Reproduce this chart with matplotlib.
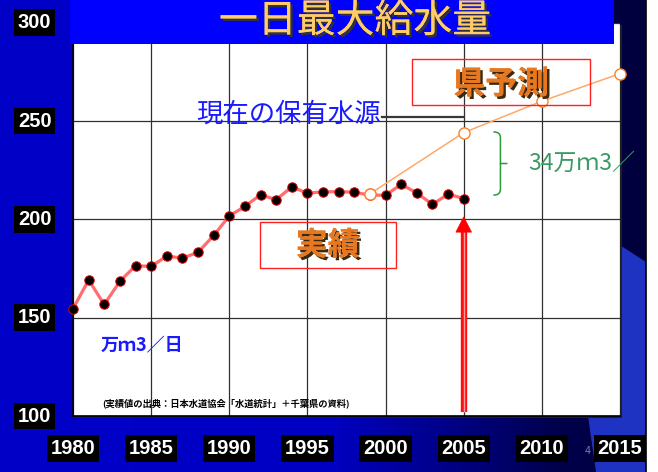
import numpy as np
import matplotlib
matplotlib.use("Agg")
import matplotlib.pyplot as plt
import matplotlib.patheffects as pe
from matplotlib.patches import Rectangle, Polygon
from matplotlib.path import Path
from matplotlib.patches import PathPatch
from matplotlib.colors import LinearSegmentedColormap

# ---- data -------------------------------------------------------------
years_actual = [1980, 1981, 1982, 1983, 1984, 1985, 1986, 1987, 1988, 1989,
                1990, 1991, 1992, 1993, 1994, 1995, 1996, 1997, 1998, 1999,
                2000, 2001, 2002, 2003, 2004, 2005]
supply_actual = [154.5, 169.2, 156.7, 168.5, 176.4, 176.1, 181.3, 180.3, 183.2, 191.8,
                 201.7, 206.6, 212.5, 210.0, 216.5, 213.3, 214.0, 214.1, 213.8, 212.3,
                 212.3, 217.8, 213.4, 207.6, 212.8, 210.6]
years_forecast = [1999, 2005, 2010, 2015]
supply_forecast = [213.0, 244.1, 260.1, 274.1]

x_ticks = [1980, 1985, 1990, 1995, 2000, 2005, 2010, 2015]
y_ticks = [100, 150, 200, 250, 300]
x_tick_labels = ["1980", "1985", "1990", "1995", "2000", "2005", "2010", "2015"]
y_tick_labels = ["100", "150", "200", "250", "300"]

title = "一日最大給水量"
label_capacity = "現在の保有水源"
capacity_level = 252.0
label_forecast = "県予測"
label_actual = "実績"
label_gap = "34万ｍ3／"
label_unit = "万ｍ3／日"
label_source = "(実績値の出典：日本水道協会「水道統計」＋千葉県の資料)"

CJK = ["Noto Sans CJK JP", "DejaVu Sans"]
W, H = 658, 472

fig = plt.figure(figsize=(W / 100, H / 100), dpi=100, facecolor="white")

# ---- slide background (pixel coordinates) -----------------------------
bg = fig.add_axes([0, 0, 1, 1], zorder=-5)
bg.set_xlim(0, W)
bg.set_ylim(H, 0)
bg.axis("off")
cmap = LinearSegmentedColormap.from_list(
    "slide",
    [(0.0, (0, 0, 200 / 255)), (0.51, (0, 0, 195 / 255)), (0.71, (0, 0, 130 / 255)),
     (0.87, (0, 0, 75 / 255)), (1.0, (0, 0, 60 / 255))])
grad = np.linspace(0, 1, 400)[None, :]
bg.imshow(grad, cmap=cmap, extent=(0, 646, H, 0), aspect="auto", zorder=0)
bg.add_patch(Polygon([(588, 416), (596, H), (646, H), (646, 262), (612, 240)],
                     closed=True, facecolor=(0.12, 0.2, 0.76), edgecolor="none", zorder=1))
bg.add_patch(Rectangle((646, 0), W - 646, H, facecolor="white", edgecolor="none", zorder=2))
bg.plot([645.5, 645.5], [0, H], color="black", lw=1.2, zorder=3)
# plot-area drop shadow
bg.add_patch(Rectangle((75, 24.5), 547, 393.5, facecolor="#202020", edgecolor="none", zorder=2))
bg.text(588, 451, "4", color="#7a7ab8", fontsize=7, ha="center", va="center",
        family="DejaVu Sans", zorder=3)

# ---- chart axes --------------------------------------------------------
ax = fig.add_axes([73 / W, 1 - 416 / H, (620 - 73) / W, (416 - 22.7) / H], zorder=1)
ax.set_facecolor("white")
ax.set_xlim(1980, 2015)
ax.set_ylim(100, 300)
ax.set_xticks(x_ticks)
ax.set_yticks(y_ticks)
ax.set_xticklabels([])
ax.set_yticklabels([])
ax.tick_params(length=0)
ax.grid(True, color="#303030", lw=0.9)
ax.set_axisbelow(True)
for side in ("top", "right"):
    ax.spines[side].set_visible(False)
ax.spines["left"].set_color("black")
ax.spines["left"].set_linewidth(1.2)
ax.spines["bottom"].set_color("black")
ax.spines["bottom"].set_linewidth(1.2)

# forecast
ax.plot(years_forecast, supply_forecast, color="#ffa868", lw=1.1, zorder=3,
        marker="o", ms=8, mfc="white", mec="#ff7f27", mew=1.0, clip_on=False)
# actual
ax.plot(years_actual, supply_actual, color="#ff6e6e", lw=2.3, zorder=4,
        marker="o", ms=6.8, mfc="black", mec="#e00000", mew=0.7, clip_on=False)
# forecast start marker drawn above the actual series
ax.plot(years_forecast[:1], supply_forecast[:1], ls="none", zorder=5,
        marker="o", ms=8, mfc="white", mec="#ff7f27", mew=1.0)

# current capacity marker line
ax.plot([1999.8, 2005], [capacity_level, capacity_level], color="#383838", lw=1.6, zorder=3)
ax.text(1999.7, capacity_level + 1.5, label_capacity, color="#1a1aff", fontsize=19,
        family=CJK, ha="right", va="center", zorder=6)

# red arrow at 2005
arrow_x = 2005
arrow_base, head_base, head_tip = 102.0, 193.5, 201.2
ax.plot([arrow_x, arrow_x], [arrow_base, head_base + 0.5], color="#ff1010", lw=4.6,
        solid_capstyle="butt", zorder=6)
ax.plot([arrow_x, arrow_x], [arrow_base, head_base + 0.5], color="#ff9a9a", lw=1.0,
        solid_capstyle="butt", zorder=7)
ax.add_patch(Polygon([(arrow_x - 0.5, head_base), (arrow_x + 0.5, head_base),
                      (arrow_x, head_tip)], closed=True, facecolor="#ff0000",
                     edgecolor="#ff0000", lw=0.5, zorder=7))

# gap brace between forecast and actual in 2005
b_top, b_bot = 244.5, 212.3
bx0, bx1 = 2006.9, 2007.8
b_mid = (b_top + b_bot) / 2
bxm = (bx0 + bx1) / 2
verts = [(bx0, b_top), (bxm, b_top), (bxm, b_top - 3), (bxm, b_mid + 4),
         (bxm, b_mid), (bxm, b_mid), (bx1, b_mid),
         (bxm, b_mid), (bxm, b_mid), (bxm, b_mid - 4),
         (bxm, b_bot + 3), (bxm, b_bot), (bx0, b_bot)]
codes = [Path.MOVETO, Path.CURVE3, Path.CURVE3, Path.LINETO, Path.CURVE3, Path.CURVE3,
         Path.LINETO, Path.MOVETO, Path.CURVE3, Path.CURVE3, Path.LINETO, Path.CURVE3,
         Path.CURVE3]
ax.add_patch(PathPatch(Path(verts, codes), facecolor="none", edgecolor="#2a9a3c",
                       lw=1.1, zorder=5))
ax.text(2009.15, 228.6, label_gap, color="#3a9a64", fontsize=16.5, family=CJK,
        ha="left", va="center", zorder=8, clip_on=False)

# labelled boxes
shadow = [pe.withSimplePatchShadow(offset=(1.8, -1.8), shadow_rgbFace="#3a2a10", alpha=1.0),
          pe.Normal()]
ax.add_patch(Rectangle((2001.7, 258.1), 11.4, 23.3, facecolor="none", edgecolor="#ff2020",
                       lw=1.0, zorder=4))
ax.text(2007.4, 268.5, label_forecast, color="#e87820", fontsize=23, weight="bold",
        family=CJK, ha="center", va="center", zorder=6, path_effects=shadow)
ax.add_patch(Rectangle((1991.96, 175.2), 8.69, 23.4, facecolor="none", edgecolor="#ff2020",
                       lw=1.0, zorder=4))
ax.text(1996.3, 186.5, label_actual, color="#e87820", fontsize=23, weight="bold",
        family=CJK, ha="center", va="center", zorder=6, path_effects=shadow)

ax.text(1981.8, 135.5, label_unit, color="#1a1aff", fontsize=13, weight="bold",
        family=CJK, ha="left", va="center", zorder=6)
ax.text(1989.8, 106.6, label_source, color="black", fontsize=6.7, weight="bold",
        family=CJK, ha="center", va="center", zorder=6)

# ---- tick labels: white bold on black ---------------------------------
box = dict(facecolor="black", edgecolor="none", pad=2.8)
for v, s in zip(y_ticks, y_tick_labels):
    ax.text(-0.07, (v - 100) / 200, s, transform=ax.transAxes, color="white",
            fontsize=14.5, weight="bold", family="Liberation Sans", ha="center",
            va="center", bbox=box, clip_on=False, zorder=10)
for v, s in zip(x_ticks, x_tick_labels):
    ax.text((v - 1980) / 35, -0.083, s, transform=ax.transAxes, color="white",
            fontsize=14.5, weight="bold", family="Liberation Sans", ha="center",
            va="center", bbox=box, clip_on=False, zorder=10)

# ---- title banner -------------------------------------------------------
bg2 = fig.add_axes([0, 0, 1, 1], zorder=2)
bg2.set_xlim(0, W)
bg2.set_ylim(H, 0)
bg2.axis("off")
bg2.patch.set_alpha(0)
bg2.add_patch(Rectangle((70, 0), 544, 43.5, facecolor="#0000ff", edgecolor="none"))
bg2.text(355, 21, title, color="#ffcc66", fontsize=28, family=CJK, ha="center",
         va="center",
         path_effects=[pe.withSimplePatchShadow(offset=(1.8, -1.8), shadow_rgbFace="#333333",
                                                alpha=1.0), pe.Normal()])

fig.savefig("out.png", dpi=100, facecolor=fig.get_facecolor())
